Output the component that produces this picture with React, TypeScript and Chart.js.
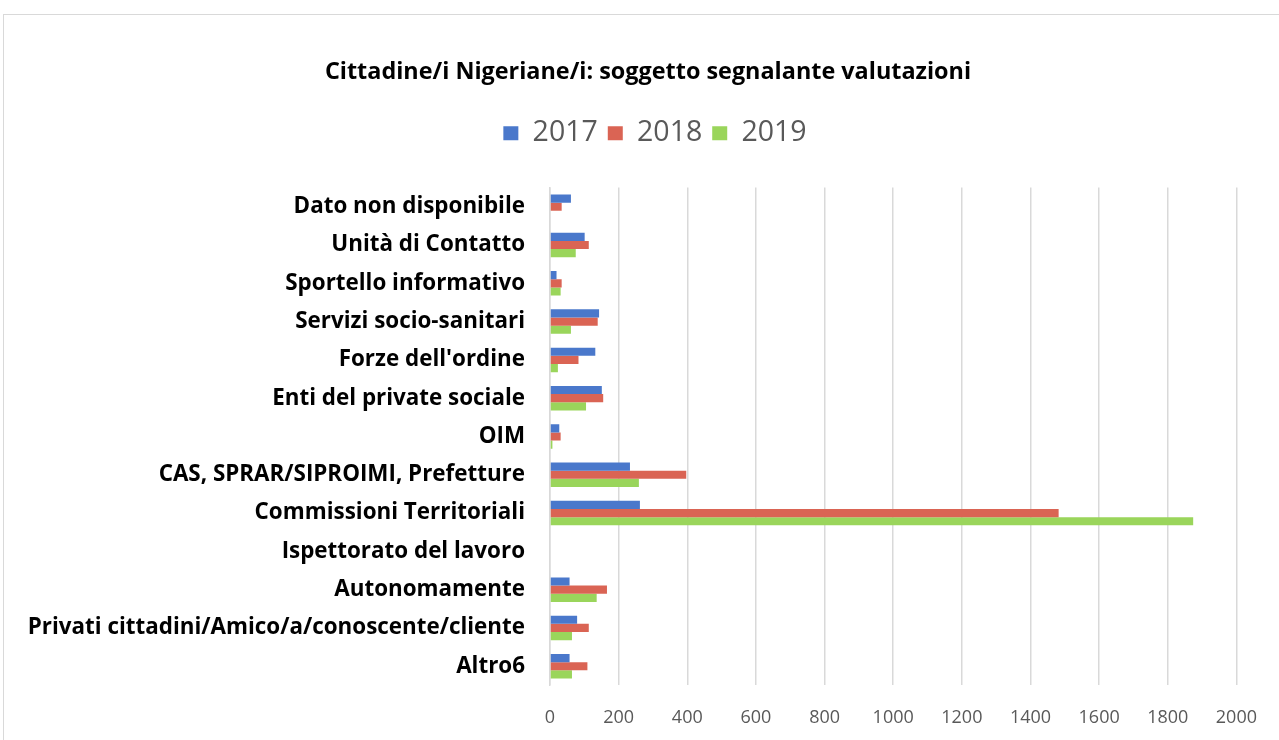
import React, { useEffect, useRef } from "react";
import { Chart, registerables } from "chart.js";

Chart.register(...registerables);

const categories = [
  "Dato non disponibile",
  "Unità di Contatto",
  "Sportello informativo",
  "Servizi socio-sanitari",
  "Forze dell'ordine",
  "Enti del private sociale",
  "OIM",
  "CAS, SPRAR/SIPROIMI, Prefetture",
  "Commissioni Territoriali",
  "Ispettorato del lavoro",
  "Autonomamente",
  "Privati cittadini/Amico/a/conoscente/cliente",
  "Altro6",
];

const seriesNames = ["2017", "2018", "2019"];
const values2017 = [61, 101, 19, 143, 132, 151, 27, 233, 262, 0, 57, 79, 57];
const values2018 = [34, 113, 34, 139, 83, 155, 31, 397, 1482, 0, 166, 113, 109];
const values2019 = [0, 75, 31, 61, 23, 105, 7, 259, 1874, 0, 136, 64, 64];
const colors = ["#4A78CB", "#DA6454", "#9AD55B"];

const FONT = "'Open Sans', Lato, sans-serif";

export default function App() {
  const ref = useRef<HTMLCanvasElement | null>(null);
  useEffect(() => {
    if (!ref.current) return;
    const legendGap = {
      id: "legendGap",
      beforeInit(chart: any) {
        const orig = chart.legend?.fit;
        if (chart.legend && orig) {
          chart.legend.fit = function () {
            orig.call(this);
            this.height += 30;
          };
        }
      },
      afterLayout(chart: any) {
        if (chart.titleBlock) {
          chart.titleBlock.left += 13;
          chart.titleBlock.right += 13;
        }
        if (chart.legend) {
          chart.legend.left += 20;
          chart.legend.right += 20;
        }
      },
    };
    const chart = new Chart(ref.current, {
      type: "bar",
      data: {
        labels: categories,
        datasets: [values2017, values2018, values2019].map((d, i) => ({
          label: seriesNames[i],
          data: d,
          backgroundColor: colors[i],
          borderWidth: 0,
          categoryPercentage: 0.64,
          barPercentage: 1.0,
        })),
      },
      options: {
        indexAxis: "y",
        animation: false,
        responsive: false,
        maintainAspectRatio: false,
        layout: { padding: { top: 0, left: 18, right: 31, bottom: 0 } },
        plugins: {
          title: {
            display: true,
            text: "Cittadine/i Nigeriane/i: soggetto segnalante valutazioni",
            color: "#000",
            font: { family: FONT, size: 23.4, weight: "bold" },
            padding: { top: 43, bottom: 23 },
          },
          legend: {
            display: true,
            position: "top",
            labels: {
              color: "#595959",
              font: { family: FONT, size: 28.5 },
              boxWidth: 15,
              boxHeight: 14,
              padding: 10,
            },
          },
          tooltip: { enabled: false },
        },
        scales: {
          x: {
            min: 0,
            max: 2000,
            ticks: {
              stepSize: 200,
              color: "#595959",
              font: { family: FONT, size: 18 },
              padding: 22,
              maxRotation: 0,
              callback: (v: any) => String(v),
            },
            grid: { color: "#D9D9D9", drawTicks: false, lineWidth: 1.5 },
            border: { display: false },
          },
          y: {
            ticks: {
              color: "#000",
              font: { family: FONT, size: 22.4, weight: "bold" },
              padding: 25,
              autoSkip: false,
            },
            grid: { display: false, drawTicks: false },
            border: { display: true, color: "#D9D9D9", width: 1.5 },
            afterFit(scale: any) {
              scale.width = 528;
            },
          },
        },
      },
      plugins: [legendGap],
    } as any);
    return () => chart.destroy();
  }, []);

  return (
    <div style={{ position: "fixed", inset: 0, overflow: "hidden", background: "#fff" }}>
      <div
        style={{
          position: "absolute",
          left: 3,
          top: 14,
          width: 1290,
          height: 780,
          border: "1px solid #D9D9D9",
          boxSizing: "border-box",
        }}
      >
        <canvas ref={ref} width={1275} height={736} style={{ display: "block" }} />
      </div>
    </div>
  );
}
